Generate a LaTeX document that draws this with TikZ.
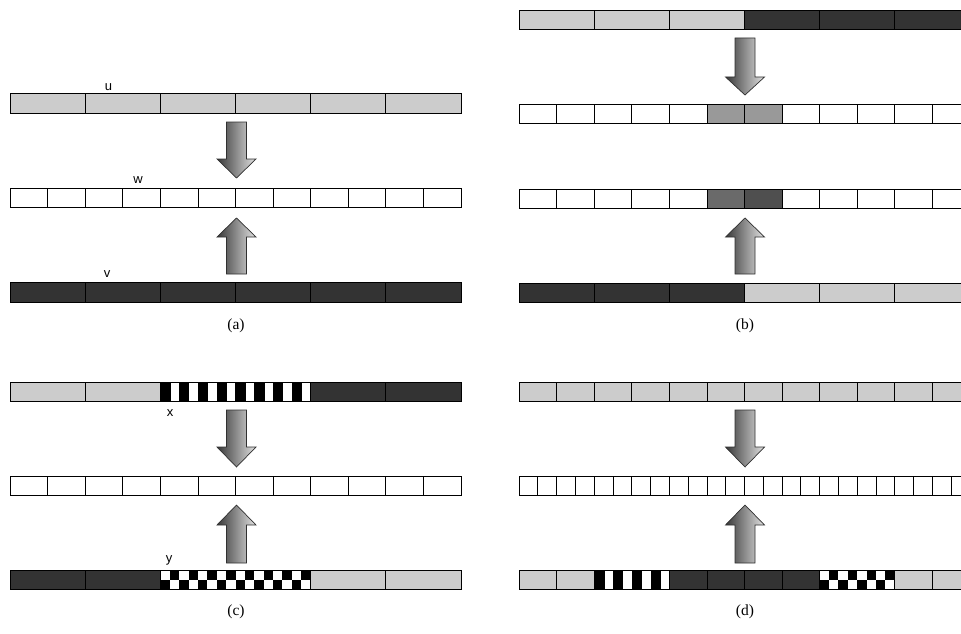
\documentclass[tikz,border=0pt]{standalone}
\usepackage{fontspec}
\setmainfont{Liberation Serif}
\newfontfamily\lblfont{Liberation Sans}
\definecolor{lightg}{HTML}{CCCCCC}
\definecolor{darkg}{HTML}{333333}
\definecolor{midg}{HTML}{999999}
\definecolor{gsixa}{HTML}{6A6A6A}
\definecolor{gfourf}{HTML}{4F4F4F}
\definecolor{arrdark}{HTML}{383838}
\definecolor{arrlight}{HTML}{E2E2E2}
\definecolor{arredge}{HTML}{303030}
\tikzset{
  cellbox/.style={draw=black, line width=0.8pt},
  blockarr/.style={draw=arredge, line width=0.7pt, left color=arrdark, right color=arrlight},
  letterlbl/.style={font=\lblfont\fontsize{13}{15}\selectfont, inner sep=0pt, anchor=base},
  caplbl/.style={font=\fontsize{15.5}{18}\selectfont, inner sep=0pt},
}
% bar of cells: x0, ytop, height, cell width, colours
\newcommand{\mybar}[5]{%
  \foreach \cc [count=\ii from 0] in {#5} {
    \filldraw[cellbox, fill=\cc] ({#1+\ii*#4},#2) rectangle ++(#4,#3);
  }}
% stripes: x0, ytop, height, periods, period
\newcommand{\mystripes}[5]{%
  \fill[white] (#1,#2) rectangle ++({#4*#5},#3);
  \foreach \kk in {1,...,#4} {
    \fill[black] ({#1+(\kk-1)*#5},#2) rectangle ++({0.55*#5},#3);
  }
  \draw[cellbox] (#1,#2) rectangle ++({#4*#5},#3);}
% checker: x0, ytop, height, pairs of columns, column width
\newcommand{\mychecker}[5]{%
  \fill[white] (#1,#2) rectangle ++({2*#4*#5},#3);
  \foreach \kk in {1,...,#4} {
    \fill[black] ({#1+2*(\kk-1)*#5},{#2+#3/2}) rectangle ++(#5,{#3/2});
    \fill[black] ({#1+(2*\kk-1)*#5},#2) rectangle ++(#5,{#3/2});
  }
  \draw[cellbox] (#1,#2) rectangle ++({2*#4*#5},#3);}
% down arrow: cx, top, head base, tip
\newcommand{\downarr}[4]{%
  \path[blockarr] ({#1-10},#2) -- ({#1+10},#2) -- ({#1+10},#3) -- ({#1+19.5},#3)
    -- (#1,#4) -- ({#1-19.5},#3) -- ({#1-10},#3) -- cycle;}
% up arrow: cx, bottom, head base, tip
\newcommand{\uparr}[4]{%
  \path[blockarr] ({#1-10},#2) -- ({#1+10},#2) -- ({#1+10},#3) -- ({#1+19.5},#3)
    -- (#1,#4) -- ({#1-19.5},#3) -- ({#1-10},#3) -- cycle;}
\begin{document}
\begin{tikzpicture}[x=1pt,y=-1pt]
\useasboundingbox (0,0) rectangle (961,634);
\clip (0,0) rectangle (961,634);
% ---------- (a)
\mybar{10}{93}{20}{75.17}{lightg,lightg,lightg,lightg,lightg,lightg}
\mybar{10}{188}{19}{37.58}{white,white,white,white,white,white,white,white,white,white,white,white}
\mybar{10}{282}{20}{75.17}{darkg,darkg,darkg,darkg,darkg,darkg}
\downarr{236.5}{122}{159}{178}
\uparr{236.5}{274}{237}{218}
\node[letterlbl] (lu) at (108.5,90) {u};
\node[letterlbl] (lw) at (138,183) {w};
\node[letterlbl] (lv) at (107,277) {v};
\node[caplbl] (capa) at (236,326) {(a)};
% ---------- (b)
\mybar{519}{10}{19}{75.17}{lightg,lightg,lightg,darkg,darkg,darkg}
\mybar{519}{104}{19}{37.58}{white,white,white,white,white,midg,midg,white,white,white,white,white}
\mybar{519}{189}{19}{37.58}{white,white,white,white,white,gsixa,gfourf,white,white,white,white,white}
\mybar{519}{283}{19}{75.17}{darkg,darkg,darkg,lightg,lightg,lightg}
\downarr{745}{38}{77}{95}
\uparr{745}{274}{237}{218}
\node[caplbl] (capb) at (745,326) {(b)};
% ---------- (c)
\mybar{10}{382}{19}{75.17}{lightg,lightg,white,white,darkg,darkg}
\mystripes{160.33}{382}{19}{8}{18.79}
\mybar{10}{476}{19}{37.58}{white,white,white,white,white,white,white,white,white,white,white,white}
\mybar{10}{570}{19}{75.17}{darkg,darkg,white,white,lightg,lightg}
\mychecker{160.33}{570}{19}{8}{9.396}
\downarr{236.5}{410}{447}{467}
\uparr{236.5}{563}{525}{505}
\node[letterlbl] (lx) at (170,416) {x};
\node[letterlbl] (ly) at (169,562) {y};
\node[caplbl] (capc) at (236,612) {(c)};
% ---------- (d)
\mybar{519}{382}{19}{37.58}{lightg,lightg,lightg,lightg,lightg,lightg,lightg,lightg,lightg,lightg,lightg,lightg}
\mybar{519}{476}{19}{18.79}{white,white,white,white,white,white,white,white,white,white,white,white,white,white,white,white,white,white,white,white,white,white,white,white}
\mybar{519}{570}{19}{37.58}{lightg,lightg,white,white,darkg,darkg,darkg,darkg,white,white,lightg,lightg}
\mystripes{594.17}{570}{19}{4}{18.79}
\mychecker{819.67}{570}{19}{4}{9.396}
\downarr{745}{410}{447}{467}
\uparr{745}{563}{525}{505}
\node[caplbl] (capd) at (745,612) {(d)};
\end{tikzpicture}
\end{document}
